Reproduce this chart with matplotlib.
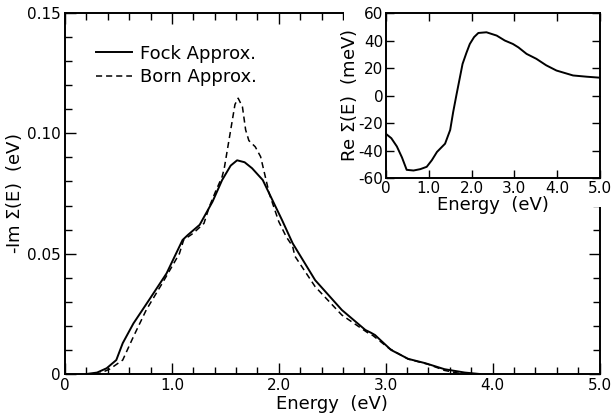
import matplotlib
matplotlib.use("Agg")
import matplotlib.pyplot as plt
from matplotlib.patches import Rectangle
from matplotlib.ticker import MultipleLocator, FixedLocator

plt.rcParams["font.family"] = "DejaVu Sans"
plt.rcParams["font.size"] = 11

# ---- data --------------------------------------------------------------- #
E_FOCK = [0.20, 0.30, 0.39, 0.48, 0.54, 0.64, 0.79, 0.95, 1.10, 1.15, 1.26,
          1.38, 1.47, 1.55, 1.61, 1.68, 1.75, 1.85, 1.94, 2.03, 2.13, 2.34,
          2.59, 2.81, 2.86, 2.90, 3.05, 3.21, 3.37, 3.55, 3.74, 3.88]
IM_FOCK = [0.0, 0.0006, 0.0024, 0.0058, 0.0128, 0.0210, 0.0310, 0.0418,
           0.0557, 0.0578, 0.0620, 0.0716, 0.0806, 0.0866, 0.0888, 0.0880,
           0.0855, 0.0806, 0.0723, 0.0640, 0.0543, 0.0390, 0.0266, 0.0183,
           0.0172, 0.0162, 0.0100, 0.0063, 0.0045, 0.0020, 0.0006, 0.0]

E_BORN = [0.28, 0.33, 0.42, 0.54, 0.64, 0.76, 0.91, 1.07, 1.11, 1.20, 1.30,
          1.35, 1.41, 1.47, 1.49, 1.55, 1.59, 1.62, 1.66, 1.69, 1.72, 1.78,
          1.83, 1.91, 2.00, 2.07, 2.13, 2.15, 2.34, 2.59, 2.84, 2.88, 3.03,
          3.21, 3.40, 3.55, 3.72]
IM_BORN = [0.0, 0.0003, 0.0021, 0.0058, 0.0155, 0.0266, 0.0377, 0.0500,
           0.0557, 0.0585, 0.0626, 0.0695, 0.0760, 0.0820, 0.0855, 0.1014,
           0.1120, 0.1146, 0.1110, 0.1014, 0.0970, 0.0944, 0.0903, 0.0751,
           0.0633, 0.0570, 0.0530, 0.0490, 0.0363, 0.0245, 0.0169, 0.0160,
           0.0107, 0.0062, 0.0040, 0.0015, 0.0]

E_RE = [0.0, 0.12, 0.25, 0.37, 0.48, 0.64, 0.80, 0.95, 1.07, 1.19, 1.38,
        1.50, 1.57, 1.65, 1.72, 1.79, 1.88, 1.96, 2.06, 2.16, 2.35, 2.59,
        2.78, 2.97, 3.10, 3.29, 3.52, 3.75, 3.99, 4.38, 4.70, 5.0]
RE_SIGMA = [-28, -31, -37, -45, -54, -54.5, -53.5, -51.8, -47, -41, -35,
            -25, -12, 1, 12, 23, 31, 37.5, 42.5, 45.5, 46, 43.6, 40, 37.5,
            35, 30.3, 26.7, 22, 18.2, 14.6, 13.7, 13]

X_LABELS = ["0", "1.0", "2.0", "3.0", "4.0", "5.0"]
Y_MAIN_LABELS = ["0", "0.05", "0.10", "0.15"]
Y_INSET_LABELS = ["-60", "-40", "-20", "0", "20", "40", "60"]

LABEL_FS = 13

# ---- main panel ----------------------------------------------------------- #
fig = plt.figure(figsize=(6.13, 4.20), dpi=100)
ax = fig.add_axes([0.106, 0.1095, 0.872, 0.8595])

ax.plot(E_FOCK, IM_FOCK, color="black", lw=1.4, label="Fock Approx.")
ax.plot(E_BORN, IM_BORN, color="black", lw=1.1, dashes=(4, 2.6),
        label="Born Approx.")

ax.set_xlim(0, 5)
ax.set_ylim(0, 0.15)
ax.xaxis.set_major_locator(FixedLocator(range(6)))
ax.set_xticklabels(X_LABELS)
ax.xaxis.set_minor_locator(MultipleLocator(0.2))
ax.yaxis.set_major_locator(FixedLocator([0, 0.05, 0.10, 0.15]))
ax.set_yticklabels(Y_MAIN_LABELS)
ax.yaxis.set_minor_locator(MultipleLocator(0.01))
ax.tick_params(which="both", direction="in", top=True, right=True,
               width=1.0, pad=3)
ax.tick_params(which="major", length=8)
ax.tick_params(which="minor", length=5)
for s in ax.spines.values():
    s.set_linewidth(1.4)

ax.set_xlabel("Energy  (eV)", labelpad=1, fontsize=LABEL_FS)
ax.set_ylabel("-Im $\\Sigma$(E)  (eV)", labelpad=2, fontsize=LABEL_FS)

ax.legend(loc="upper left", bbox_to_anchor=(0.045, 0.932), frameon=False,
          handlelength=2.0, handletextpad=0.45, labelspacing=0.3,
          borderaxespad=0, fontsize=LABEL_FS)

# white patch hiding the main frame behind the inset and its labels
ax.add_patch(Rectangle((0.561, 0.507), 0.45, 0.5, transform=fig.transFigure,
                       facecolor="white", edgecolor="none", zorder=10,
                       clip_on=False))

# ---- inset ---------------------------------------------------------------- #
ins = fig.add_axes([0.630, 0.576, 0.348, 0.393], zorder=5)
ins.plot(E_RE, RE_SIGMA, color="black", lw=1.4)
ins.set_xlim(0, 5)
ins.set_ylim(-60, 60)
ins.xaxis.set_major_locator(FixedLocator(range(6)))
ins.set_xticklabels(X_LABELS)
ins.yaxis.set_major_locator(FixedLocator(range(-60, 61, 20)))
ins.set_yticklabels(Y_INSET_LABELS)
ins.tick_params(direction="in", top=True, right=True, length=6, width=1.0,
                pad=2)
for s in ins.spines.values():
    s.set_linewidth(1.4)
ins.set_xlabel("Energy  (eV)", labelpad=0, fontsize=LABEL_FS)
ins.set_ylabel("Re $\\Sigma$(E)  (meV)", labelpad=0, fontsize=LABEL_FS)

fig.savefig("out.png", dpi=100)
